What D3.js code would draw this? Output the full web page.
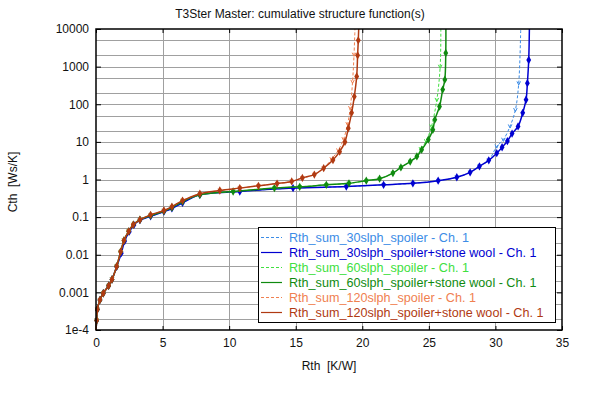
<!DOCTYPE html>
<html>
<head>
<meta charset="utf-8">
<script src="https://cdn.jsdelivr.net/npm/d3@7"></script>
<style>
body { margin: 0; background: #fff; }
text { font-family: "Liberation Sans", Arial, sans-serif; }
</style>
</head>
<body>
<div id="chart"></div>
<script>
// tick labels
const xTicks = [0, 5, 10, 15, 20, 25, 30, 35];
const yTicks = [1e-4, 1e-3, 1e-2, 0.1, 1, 10, 100, 1000, 10000];
const yTickLabels = ["1e-4", "0.001", "0.01", "0.1", "1", "10", "100", "1000", "10000"];

// series names
const names = [
	"Rth_sum_30slph_spoiler - Ch. 1",
	"Rth_sum_30slph_spoiler+stone wool - Ch. 1",
	"Rth_sum_60slph_spoiler - Ch. 1",
	"Rth_sum_60slph_spoiler+stone wool - Ch. 1",
	"Rth_sum_120slph_spoiler - Ch. 1",
	"Rth_sum_120slph_spoiler+stone wool - Ch. 1"
];
const colors = ["#3c8ce6", "#0000d0", "#40e040", "#108a10", "#f08050", "#b03a12"];
const dashed = [true, false, true, false, true, false];

// Rth [K/W] / Cth [Ws/K] per series
const rth30 = [0, 0.05, 0.1, 0.3, 0.55, 0.95, 1.2, 1.55, 1.9, 2.15, 2.5, 2.85, 3.3, 4.1, 5.1, 5.7, 6.5, 7.8, 10.8, 14.8, 18.8, 21.6, 23.8, 25.7, 27.1, 28.1, 28.8, 29.5, 30.1, 30.6, 31.1, 31.5, 31.75, 31.9];
const cth30 = [1e-4, 1.8e-4, 3.5e-4, 6.3e-4, 9.5e-4, 0.0015, 0.0022, 0.0048, 0.011, 0.023, 0.041, 0.062, 0.083, 0.105, 0.14, 0.17, 0.24, 0.39, 0.48, 0.59, 0.65, 0.72, 0.79, 0.93, 1.15, 1.55, 2.24, 3.24, 7.6, 11.5, 26, 71, 363, 10000];
const rth30w = [0, 0.05, 0.1, 0.3, 0.55, 0.95, 1.2, 1.55, 1.9, 2.15, 2.5, 2.85, 3.3, 4.1, 5.1, 5.7, 6.5, 7.8, 10.8, 14.8, 18.8, 21.6, 23.8, 25.7, 27.1, 28.1, 28.8, 29.5, 30.1, 30.5, 30.9, 31.25, 31.7, 32.05, 32.3, 32.4, 32.5, 32.55];
const cth30w = [1e-4, 1.8e-4, 3.5e-4, 6.3e-4, 9.5e-4, 0.0015, 0.0022, 0.0048, 0.011, 0.023, 0.041, 0.062, 0.083, 0.105, 0.14, 0.17, 0.24, 0.39, 0.48, 0.59, 0.65, 0.72, 0.79, 0.93, 1.15, 1.55, 2.24, 3.24, 5.0, 7.2, 10.5, 16.6, 25.7, 59, 132, 363, 1500, 10000];
const rth60 = [0, 0.05, 0.1, 0.3, 0.55, 0.95, 1.2, 1.55, 1.85, 2.1, 2.45, 2.8, 3.3, 4.1, 5.1, 5.7, 6.5, 7.8, 10.3, 13.4, 15.3, 17.3, 19.0, 20.3, 21.3, 22.3, 22.9, 23.6, 24.1, 24.4, 24.8, 25.2, 25.6, 25.85, 25.9];
const cth60 = [1e-4, 1.8e-4, 3.5e-4, 6.3e-4, 9.5e-4, 0.0015, 0.0022, 0.0049, 0.012, 0.024, 0.042, 0.063, 0.085, 0.11, 0.145, 0.18, 0.26, 0.39, 0.48, 0.59, 0.64, 0.72, 0.79, 0.93, 1.05, 1.48, 2.1, 3.0, 4.1, 6.5, 10.5, 26, 132, 1000, 10000];
const rth60w = [0, 0.05, 0.1, 0.3, 0.55, 0.95, 1.2, 1.55, 1.85, 2.1, 2.45, 2.8, 3.3, 4.1, 5.1, 5.7, 6.5, 7.8, 10.3, 13.4, 15.3, 17.3, 19.0, 20.3, 21.3, 22.3, 22.9, 23.6, 24.1, 24.46, 24.96, 25.3, 25.45, 25.8, 26.04, 26.2, 26.27, 26.28];
const cth60w = [1e-4, 1.8e-4, 3.5e-4, 6.3e-4, 9.5e-4, 0.0015, 0.0022, 0.0049, 0.012, 0.024, 0.042, 0.063, 0.085, 0.11, 0.145, 0.18, 0.26, 0.39, 0.48, 0.59, 0.64, 0.72, 0.79, 0.93, 1.05, 1.48, 2.1, 3.0, 4.1, 6.2, 11.5, 21, 39, 87, 245, 450, 2300, 10000];
const rth120 = [0, 0.05, 0.1, 0.3, 0.55, 0.95, 1.2, 1.55, 1.85, 2.1, 2.45, 2.8, 3.3, 4.1, 5.1, 5.7, 6.5, 7.8, 9.3, 10.8, 12.2, 13.6, 14.7, 15.5, 16.4, 17.1, 17.7, 18.2, 18.6, 18.9, 19.1, 19.27, 19.38, 19.45];
const cth120 = [1e-4, 1.8e-4, 3.5e-4, 6.3e-4, 9.5e-4, 0.0015, 0.0022, 0.0049, 0.012, 0.024, 0.042, 0.063, 0.085, 0.115, 0.15, 0.19, 0.275, 0.42, 0.51, 0.59, 0.68, 0.78, 0.89, 1.1, 1.35, 2.0, 3.5, 6, 12, 30, 80, 400, 2100, 10000];
const rth120w = [0, 0.05, 0.1, 0.3, 0.55, 0.95, 1.2, 1.55, 1.85, 2.1, 2.45, 2.8, 3.3, 4.1, 5.1, 5.7, 6.5, 7.8, 9.3, 10.8, 12.2, 13.6, 14.7, 15.5, 16.4, 17.1, 17.8, 18.3, 18.7, 18.95, 19.2, 19.4, 19.58, 19.65, 19.7, 19.73];
const cth120w = [1e-4, 1.8e-4, 3.5e-4, 6.3e-4, 9.5e-4, 0.0015, 0.0022, 0.0049, 0.012, 0.024, 0.042, 0.063, 0.085, 0.115, 0.15, 0.19, 0.275, 0.42, 0.51, 0.59, 0.68, 0.78, 0.89, 1.1, 1.35, 2.0, 3.3, 5.5, 10, 23, 59, 160, 550, 2000, 5000, 10000];

const rths = [rth30, rth30w, rth60, rth60w, rth120, rth120w];
const cths = [cth30, cth30w, cth60, cth60w, cth120, cth120w];

var width = 598, height = 398,
margin = {"top": 29, "right": 36, "bottom": 68, "left": 96};

x = d3.scaleLinear()
.domain([0, 35])
.range([margin.left, width - margin.right]);

y = d3.scaleLog()
.domain([1e-4, 1e4])
.range([height - margin.bottom, margin.top]);

const svg = d3.select("#chart").append("svg")
.attr("width", width)
.attr("height", height);

// title
svg.append("text")
.attr("x", 300)
.attr("y", 18)
.attr("text-anchor", "middle")
.attr("font-size", 12)
.attr("fill", "#111")
.text("T3Ster Master: cumulative structure function(s)");

// grid: 1, 2, 5 per decade
var yGrid = [];
for (var e = -4; e < 4; e++) {
	[1, 2, 5].forEach(m => yGrid.push(m * Math.pow(10, e)));
}
svg.append("g")
.attr("stroke", "#a0a0a0")
.attr("shape-rendering", "crispEdges")
.call(g => g.selectAll("line.h")
	.data(yGrid.filter(v => v > 1e-4))
	.enter().append("line")
	.attr("x1", x(0)).attr("x2", x(35))
	.attr("y1", d => Math.round(y(d)) + 0.5).attr("y2", d => Math.round(y(d)) + 0.5))
.call(g => g.selectAll("line.v")
	.data(xTicks.slice(1, -1))
	.enter().append("line")
	.attr("y1", y(1e4)).attr("y2", y(1e-4))
	.attr("x1", d => Math.round(x(d)) + 0.5).attr("x2", d => Math.round(x(d)) + 0.5));

// axes
svg.append("g")
.attr("transform", `translate(0,${height - margin.bottom})`)
.call(d3.axisBottom(x).tickValues(xTicks).tickSize(-4).tickPadding(8))
.call(g => g.select(".domain").remove())
.call(g => g.selectAll(".tick text").attr("font-size", 12).attr("fill", "#111"));

svg.append("g")
.attr("transform", `translate(0,${margin.top})`)
.call(d3.axisTop(x).tickValues(xTicks).tickSize(-4).tickFormat(""))
.call(g => g.select(".domain").remove());

svg.append("g")
.attr("transform", `translate(${margin.left},0)`)
.call(d3.axisLeft(y).tickValues(yTicks).tickSize(-5).tickPadding(7)
	.tickFormat((d, i) => yTickLabels[i]))
.call(g => g.select(".domain").remove())
.call(g => g.selectAll(".tick text").attr("font-size", 12).attr("fill", "#111"));

svg.append("g")
.attr("transform", `translate(${width - margin.right},0)`)
.call(d3.axisRight(y).tickValues(yTicks).tickSize(-5).tickFormat(""))
.call(g => g.select(".domain").remove());

// axis titles
svg.append("text")
.attr("x", 329)
.attr("y", 370)
.attr("text-anchor", "middle")
.attr("font-size", 12)
.attr("fill", "#111")
.attr("xml:space", "preserve")
.text("Rth  [K/W]");

svg.append("text")
.attr("transform", "translate(17,182) rotate(-90)")
.attr("text-anchor", "middle")
.attr("font-size", 12)
.attr("fill", "#111")
.attr("xml:space", "preserve")
.text("Cth  [Ws/K]");

// curves
const line = d3.line()
.x(d => x(d[0]))
.y(d => y(d[1]))
.curve(d3.curveCatmullRom.alpha(0.5));

const plot = svg.append("g");
names.forEach((n, i) => {
	var pts = rths[i].map((r, j) => [r, cths[i][j]]);
	plot.append("path")
	.datum(pts)
	.attr("fill", "none")
	.attr("stroke", colors[i])
	.attr("stroke-width", dashed[i] ? 1 : 1.5)
	.attr("stroke-dasharray", dashed[i] ? "3,2" : null)
	.attr("d", line);

	if (dashed[i]) {
		plot.append("g")
		.selectAll("path")
		.data(pts.slice(1, -1))
		.enter().append("path")
		.attr("transform", d => `translate(${x(d[0])},${y(d[1])})`)
		.attr("d", "M-1.8,-1.8L0,1.8L1.8,-1.8")
		.attr("fill", "none")
		.attr("stroke", colors[i])
		.attr("stroke-width", 1);
	} else {
		plot.append("g")
		.selectAll("path")
		.data(pts.slice(1, -1))
		.enter().append("path")
		.attr("transform", d => `translate(${x(d[0])},${y(d[1])})`)
		.attr("d", d3.symbol(d3.symbolDiamond, 20))
		.attr("fill", colors[i]);
	}
});

// frame
svg.append("rect")
.attr("x", x(0))
.attr("y", y(1e4))
.attr("width", x(35) - x(0))
.attr("height", y(1e-4) - y(1e4))
.attr("fill", "none")
.attr("stroke", "#000")
.attr("stroke-width", 1.5);

// legend
const legend = svg.append("g");
legend.append("rect")
.attr("x", 258.5)
.attr("y", 227.5)
.attr("width", 297)
.attr("height", 95)
.attr("fill", "#fff")
.attr("stroke", "#000");

names.forEach((n, i) => {
	var ly = 237.5 + i * 15;
	legend.append("line")
	.attr("x1", 261).attr("x2", 282)
	.attr("y1", ly).attr("y2", ly)
	.attr("stroke", colors[i])
	.attr("stroke-width", 1.2)
	.attr("stroke-dasharray", dashed[i] ? "3,2" : null);
	legend.append("text")
	.attr("x", 289)
	.attr("y", ly + 4.5)
	.attr("font-size", 12.6)
	.attr("fill", colors[i])
	.text(n);
});
</script>
</body>
</html>
